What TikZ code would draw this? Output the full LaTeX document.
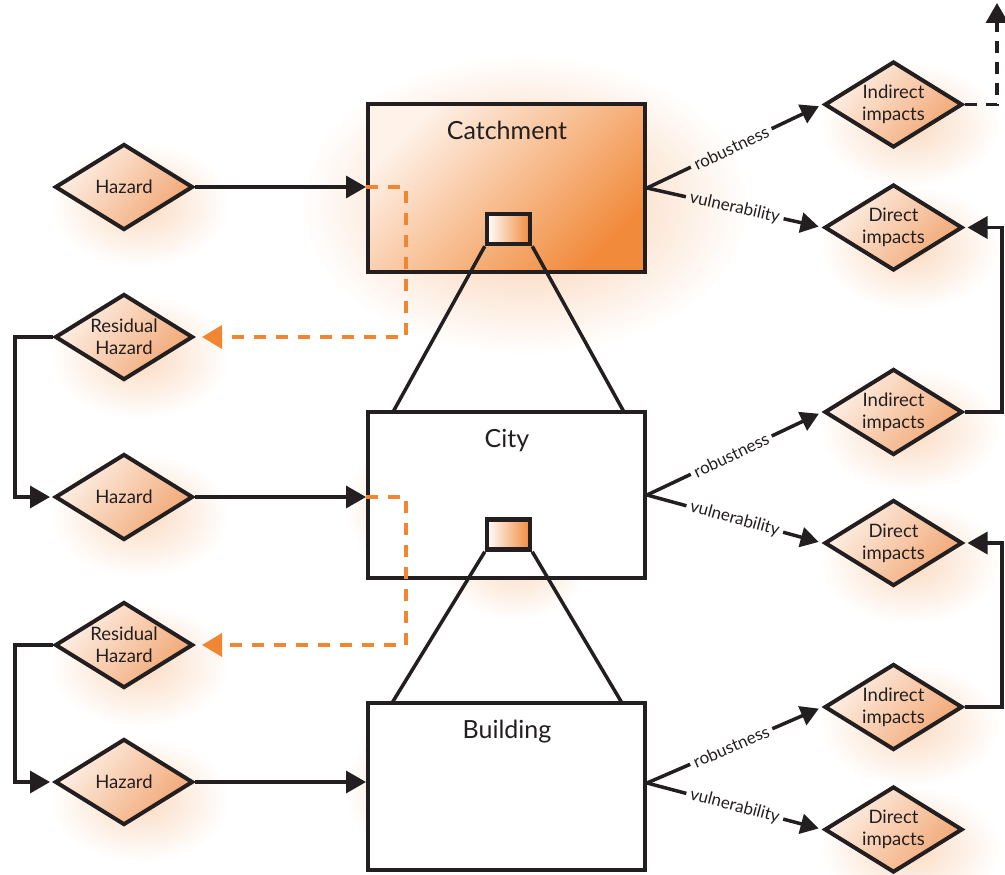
\documentclass[tikz,border=0pt]{standalone}
\usepackage{fontspec}
\setmainfont{Lato}
\usetikzlibrary{shapes.geometric,arrows.meta,fadings,calc}

\definecolor{ink}{HTML}{231F20}
\definecolor{orng}{HTML}{F08532}
\definecolor{paleorng}{HTML}{FEF2E9}
\definecolor{diaorng}{HTML}{F1A673}
\definecolor{boxorng}{HTML}{F18A3B}

\tikzfading[name=glowfade, inner color=transparent!0, outer color=transparent!100]

\newcommand\glowat[4]{\fill[orng, fill opacity=#4, path fading=glowfade] (#1) ellipse (#2pt and #3pt);}

\tikzset{
  ln/.style={draw=ink, line width=3.5pt},
  arr/.style={ln, -{Triangle[length=20pt,width=22pt]}},
  farr/.style={ln, -{Triangle[length=18pt,width=20pt]}, shorten >=4pt},
  odash/.style={draw=orng, line width=3.5pt, dash pattern=on 12pt off 10pt,
    -{Triangle[length=20pt,width=23pt]}},
  kdash/.style={ln, dash pattern=on 12pt off 9pt,
    -{Triangle[length=20pt,width=22pt]}},
  dnode/.style={diamond, draw=ink, line width=4pt, minimum width=138pt,
    minimum height=86pt, inner sep=0pt, aspect=1.6, align=center,
    font=\fontsize{18.5}{22}\selectfont, text=ink,
    top color=paleorng, bottom color=diaorng, shading angle=50},
  bigbox/.style={rectangle, draw=ink, line width=4pt, minimum width=277pt},
  minibox/.style={rectangle, draw=ink, line width=4.5pt, minimum width=43pt,
    minimum height=30pt, inner sep=0pt, left color=white, right color=boxorng},
  title/.style={font=\fontsize{25}{30}\selectfont, text=ink, inner sep=0pt},
  lab/.style={font=\fontsize{17}{20}\selectfont, text=ink, inner sep=4pt, sloped}
}

\begin{document}
\begin{tikzpicture}[x=1pt, y=-1pt]
\useasboundingbox (0,0) rectangle (1005,875);

% soft glows
\glowat{525,205}{225}{150}{0.45}
\foreach \gy in {205,357,515,665,800} {\glowat{140,\gy}{90}{62}{0.30}}
\foreach \gy in {125,248,430,562,725,848} {\glowat{910,\gy}{90}{62}{0.30}}
\glowat{515,560}{75}{60}{0.30}
\glowat{385,505}{40}{55}{0.18}
\glowat{385,790}{40}{55}{0.18}

% system boxes
\node[bigbox, minimum height=168pt, top color=paleorng, bottom color=boxorng,
      shading angle=45] (catch) at (506.5,188) {};
\node[bigbox, minimum height=166pt, fill=white] (city) at (506.5,495) {};
\node[bigbox, minimum height=167pt, fill=white] (bldg) at (506.5,786.5) {};

\node[title] (catchT) at (507,130) {Catchment};
\node[title] (cityT) at (507,441) {City};
\node[title] (bldgT) at (507,731.5) {Building};

\node[minibox] (catchIn) at (508.5,229) {};
\node[minibox] (cityIn) at (508.5,534.5) {};

% zoom lines between scales
\coordinate (cityTL) at (393,412);
\coordinate (cityTR) at (624,412);
\coordinate (bldgTL) at (392,703);
\coordinate (bldgTR) at (622,703);
\draw[ln] (catchIn.south west) -- (cityTL);
\draw[ln] (catchIn.south east) -- (cityTR);
\draw[ln] (cityIn.south west) -- (bldgTL);
\draw[ln] (cityIn.south east) -- (bldgTR);

% hazard diamonds
\node[dnode] (haz1) at (124,187) {Hazard};
\node[dnode] (res1) at (124,337) {Residual\\Hazard};
\node[dnode] (haz2) at (124,497) {Hazard};
\node[dnode] (res2) at (124,645) {Residual\\Hazard};
\node[dnode] (haz3) at (124,782) {Hazard};

% impact diamonds
\node[dnode] (ind1) at (893.5,104.5) {Indirect\\impacts};
\node[dnode] (dir1) at (893.5,227.5) {Direct\\impacts};
\node[dnode] (ind2) at (893.5,412) {Indirect\\impacts};
\node[dnode] (dir2) at (893.5,543) {Direct\\impacts};
\node[dnode] (ind3) at (893.5,707) {Indirect\\impacts};
\node[dnode] (dir3) at (893.5,829.5) {Direct\\impacts};

% hazards acting on each scale
\draw[arr] (haz1.east) -- (haz1.east -| catch.west);
\draw[arr] (haz2.east) -- (haz2.east -| city.west);
\draw[arr] (haz3.east) -- (haz3.east -| bldg.west);

% residual hazard passed down
\coordinate (o1a) at (406,187);
\coordinate (o1b) at (406,337);
\coordinate (o2a) at (406,497);
\coordinate (o2b) at (406,645);
\draw[odash, shorten >=7pt] (haz1.east -| catch.west) -- (o1a) -- (o1b) -- (res1.east);
\draw[odash, shorten >=7pt] (haz2.east -| city.west) -- (o2a) -- (o2b) -- (res2.east);

\coordinate (l1) at (15,337);
\coordinate (l2) at (15,645);
\draw[arr, shorten >=3pt] (res1.west) -- (l1) |- (haz2.west);
\draw[arr, shorten >=3pt] (res2.west) -- (l2) |- (haz3.west);

% robustness / vulnerability fans
\coordinate (f1) at (647,188);
\coordinate (f2) at (647,495);
\coordinate (f3) at (647,783);

\path (f1) -- (ind1.west) node[lab, pos=0.48] (rob1) {robustness};
\path (f1) -- (dir1.west) node[lab, pos=0.50] (vul1) {vulnerability};
\draw[ln] (f1) -- (rob1);
\draw[farr] (rob1) -- (ind1.west);
\draw[ln] (f1) -- (vul1);
\draw[farr] (vul1) -- (dir1.west);

\path (f2) -- (ind2.west) node[lab, pos=0.48] (rob2) {robustness};
\path (f2) -- (dir2.west) node[lab, pos=0.50] (vul2) {vulnerability};
\draw[ln] (f2) -- (rob2);
\draw[farr] (rob2) -- (ind2.west);
\draw[ln] (f2) -- (vul2);
\draw[farr] (vul2) -- (dir2.west);

\path (f3) -- (ind3.west) node[lab, pos=0.48] (rob3) {robustness};
\path (f3) -- (dir3.west) node[lab, pos=0.50] (vul3) {vulnerability};
\draw[ln] (f3) -- (rob3);
\draw[farr] (rob3) -- (ind3.west);
\draw[ln] (f3) -- (vul3);
\draw[farr] (vul3) -- (dir3.west);

% indirect impacts feeding the next scale up
\coordinate (r2) at (1002,412);
\coordinate (r3) at (1002,707);
\draw[arr, shorten >=3pt] (ind2.east) -- (r2) |- (dir1.east);
\draw[arr, shorten >=3pt] (ind3.east) -- (r3) |- (dir2.east);

\coordinate (up) at (997,3);
\draw[kdash] (ind1.east) -| (up);
\end{tikzpicture}
\end{document}
